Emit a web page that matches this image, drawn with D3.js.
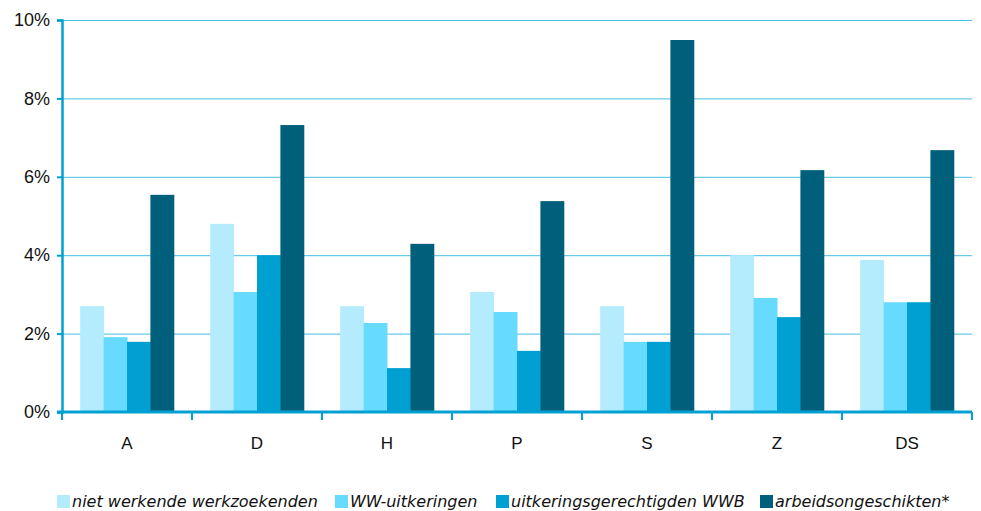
<!DOCTYPE html>
<html lang="nl">
<head>
<meta charset="UTF-8">
<title>Grafiek</title>
<script src="https://d3js.org/d3.v7.min.js"></script>
<style>
    body { margin: 0; background: #fff; }
    svg { display: block; }
    .ytick text { font-family: "Liberation Sans", Arial, sans-serif; font-size: 18px; fill: #111; }
    .xtick text { font-family: "Liberation Sans", Arial, sans-serif; font-size: 17px; fill: #111; }
    .legend text { font-family: "DejaVu Sans", Verdana, sans-serif; font-style: italic; font-size: 16px; fill: #111; }
</style>
</head>
<body>
<svg id="chart"></svg>
<script>
// categorieen en reeksen
const categories = ["A", "D", "H", "P", "S", "Z", "DS"];
const seriesNames = ["niet werkende werkzoekenden", "WW-uitkeringen", "uitkeringsgerechtigden WWB", "arbeidsongeschikten*"];
const seriesColors = ["#b5ecfd", "#66dbff", "#00a1d2", "#005f7b"];

const nietWerkend = [2.70, 4.80, 2.70, 3.06, 2.70, 4.00, 3.88];
const wwUitkering = [1.91, 3.06, 2.27, 2.55, 1.79, 2.91, 2.80];
const wwb = [1.79, 4.00, 1.12, 1.56, 1.79, 2.42, 2.80];
const arbeidsongeschikt = [5.54, 7.32, 4.29, 5.38, 9.49, 6.17, 6.68];

const yTicks = [0, 2, 4, 6, 8, 10];

const values = [nietWerkend, wwUitkering, wwb, arbeidsongeschikt];

const width = 981, height = 511;
const margin = { top: 20, right: 9, bottom: 99, left: 62 };

const svg = d3.select("#chart").attr("width", width).attr("height", height);

const x = d3.scaleBand()
    .domain(categories)
    .range([margin.left, width - margin.right])
    .paddingInner(0.28)
    .paddingOuter(0.14);

const xs = d3.scaleBand()
    .domain(d3.range(seriesNames.length))
    .range([0, x.bandwidth()]);

const y = d3.scaleLinear()
    .domain([0, 10])
    .range([height - margin.bottom, margin.top]);

// rasterlijnen
svg.append("g")
    .selectAll("line")
    .data(yTicks.filter(d => d > 0))
    .enter().append("line")
    .attr("x1", margin.left)
    .attr("x2", width - margin.right)
    .attr("y1", d => y(d) + 0.5)
    .attr("y2", d => y(d) + 0.5)
    .attr("stroke", "#45bde3")
    .attr("stroke-width", 1);

// staven
categories.forEach((cat, i) => {
    svg.append("g")
        .selectAll("rect")
        .data(values.map((s, k) => ({ k, v: s[i] })))
        .enter().append("rect")
        .attr("x", d => x(cat) + xs(d.k))
        .attr("width", xs.bandwidth() + 0.5)
        .attr("y", d => y(d.v))
        .attr("height", d => y(0) - y(d.v))
        .attr("fill", d => seriesColors[d.k]);
});

// y-as
const yAxis = svg.append("g")
    .attr("class", "ytick")
    .attr("transform", `translate(${margin.left},0)`)
    .call(d3.axisLeft(y).tickValues(yTicks).tickFormat(d => d + "%").tickSize(5).tickPadding(7));
yAxis.select(".domain").attr("stroke", "#00a1d2").attr("stroke-width", 2.5);
yAxis.selectAll(".tick line").attr("stroke", "#00a1d2").attr("stroke-width", 2);

// x-as
const xEdge = d3.scaleLinear().domain([0, categories.length]).range([margin.left, width - margin.right]);
const xAxis = svg.append("g")
    .attr("class", "xtick")
    .attr("transform", `translate(0,${y(0)})`);
xAxis.append("line")
    .attr("x1", margin.left - 5)
    .attr("x2", width - margin.right)
    .attr("stroke", "#00a1d2")
    .attr("stroke-width", 3);
xAxis.selectAll("line.tk")
    .data(d3.range(categories.length + 1))
    .enter().append("line")
    .attr("class", "tk")
    .attr("x1", d => xEdge(d))
    .attr("x2", d => xEdge(d))
    .attr("y1", 0)
    .attr("y2", 8)
    .attr("stroke", "#00a1d2")
    .attr("stroke-width", 2);
xAxis.selectAll("text")
    .data(categories)
    .enter().append("text")
    .attr("x", d => x(d) + x.bandwidth() / 2)
    .attr("y", 37)
    .attr("text-anchor", "middle")
    .text(d => d);

// legenda
const legendX = [57, 335, 496, 760];
const legend = svg.append("g").attr("class", "legend");
seriesNames.forEach((name, i) => {
    legend.append("rect")
        .attr("x", legendX[i])
        .attr("y", 495)
        .attr("width", 13)
        .attr("height", 13)
        .attr("fill", seriesColors[i]);
    legend.append("text")
        .attr("x", legendX[i] + 15)
        .attr("y", 507)
        .text(name);
});
</script>
</body>
</html>
